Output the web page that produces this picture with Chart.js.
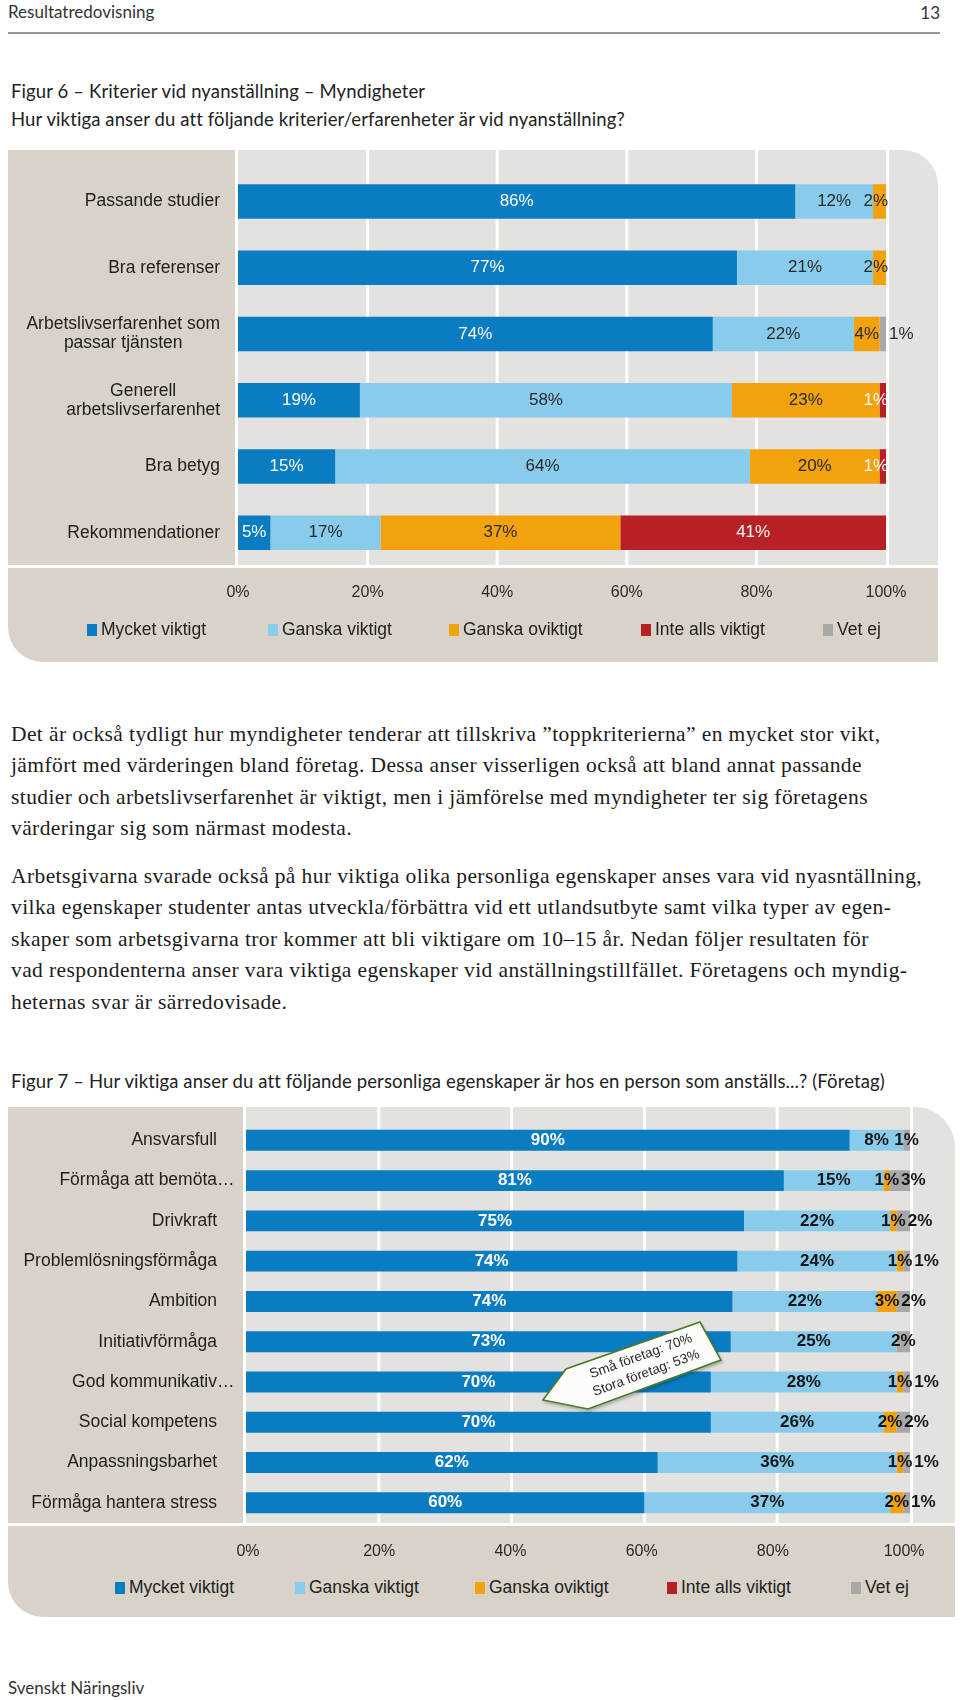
<!DOCTYPE html>
<html><head><meta charset="utf-8">
<script src="https://cdn.jsdelivr.net/npm/chart.js@4.4.1/dist/chart.umd.min.js"></script>
<style>
html,body{margin:0;padding:0;background:#fff;}
body{width:960px;height:1700px;position:relative;overflow:hidden;font-family:Lato,"Open Sans",sans-serif;color:#222;}
.abs{position:absolute;}
.hdr{font-size:17px;line-height:20px;color:#333;white-space:nowrap;}
.title{font-size:18.5px;letter-spacing:0.12px;line-height:28px;color:#222;white-space:nowrap;}
.body{font-family:"Liberation Serif","Times New Roman",serif;font-size:21.5px;letter-spacing:0.4px;line-height:31.5px;color:#1c1c1c;white-space:nowrap;left:11px;}
.beige{background:#d8d2c8;}
.plotbg{background:#e4e2df;}
.legend{font-family:"Liberation Sans",Arial,sans-serif;font-size:17.5px;color:#222;height:20px;width:960px;left:0;}
.legend .item{position:absolute;top:0;line-height:20px;white-space:nowrap;}
.legend .sq{display:inline-block;width:10px;height:12px;vertical-align:-1px;margin-right:4px;}
canvas{position:absolute;left:0;}
</style></head><body>

<div class="abs hdr" style="left:8px;top:2px;">Resultatredovisning</div>
<div class="abs hdr" style="left:880px;top:3px;width:60px;text-align:right;">13</div>
<div class="abs" style="left:8px;top:32px;width:932px;height:2px;background:#999;"></div>

<div class="abs title" style="left:11px;top:77px;">Figur 6 – Kriterier vid nyanställning – Myndigheter</div>
<div class="abs title" style="left:11px;top:105px;">Hur viktiga anser du att följande kriterier/erfarenheter är vid nyanställning?</div>

<!-- Figure 6 panel -->
<div class="abs beige" style="left:8px;top:150px;width:227px;height:415px;"></div>
<div class="abs plotbg" style="left:238px;top:150px;width:700px;height:415px;border-top-right-radius:35px;"></div>
<div class="abs beige" style="left:8px;top:568px;width:930px;height:94px;border-bottom-left-radius:35px;"></div>
<canvas id="fig6" width="960" height="470" style="top:150px;"></canvas>
<div class="abs legend" id="legend6" style="top:619px;"></div>

<div class="abs body" style="top:718.75px;">Det är också tydligt hur myndigheter tenderar att tillskriva ”toppkriterierna” en mycket stor vikt,<br>jämfört med värderingen bland företag. Dessa anser visserligen också att bland annat passande<br>studier och arbetslivserfarenhet är viktigt, men i jämförelse med myndigheter ter sig företagens<br>värderingar sig som närmast modesta.</div>

<div class="abs body" style="top:860.75px;">Arbetsgivarna svarade också på hur viktiga olika personliga egenskaper anses vara vid nyasntällning,<br>vilka egenskaper studenter antas utveckla/förbättra vid ett utlandsutbyte samt vilka typer av egen-<br>skaper som arbetsgivarna tror kommer att bli viktigare om 10–15 år. Nedan följer resultaten för<br>vad respondenterna anser vara viktiga egenskaper vid anställningstillfället. Företagens och myndig-<br>heternas svar är särredovisade.</div>

<div class="abs title" style="left:11px;top:1067px;">Figur 7 – Hur viktiga anser du att följande personliga egenskaper är hos en person som anställs...? (Företag)</div>

<!-- Figure 7 panel -->
<div class="abs beige" style="left:8px;top:1107px;width:235px;height:416px;"></div>
<div class="abs plotbg" style="left:246px;top:1107px;width:709px;height:416px;border-top-right-radius:40px;"></div>
<div class="abs beige" style="left:8px;top:1526px;width:947px;height:91px;border-bottom-left-radius:35px;"></div>
<canvas id="fig7" width="960" height="470" style="top:1107px;"></canvas>
<div class="abs legend" id="legend7" style="top:1577px;"></div>

<svg class="abs" style="left:530px;top:1310px;overflow:visible;" width="200" height="110">
  <defs><filter id="sh" x="-20%" y="-20%" width="140%" height="140%"><feDropShadow dx="1" dy="2" stdDeviation="1.5" flood-color="#000" flood-opacity="0.25"/></filter></defs>
  <polygon points="13,90 36,59 170,12 191,50 58,99" fill="#fcfcfa" stroke="#4a7a28" stroke-width="1.6" filter="url(#sh)"/>
  <g font-family="Liberation Sans, Arial, sans-serif" font-size="13.5" fill="#2a2a2a" text-anchor="middle">
    <text x="111" y="50" transform="rotate(-20 111 46)">Små företag: 70%</text>
    <text x="116" y="67" transform="rotate(-20 116 63)">Stora företag: 53%</text>
  </g>
</svg>

<div class="abs hdr" style="left:8px;top:1678px;">Svenskt Näringsliv</div>

<script>
// ---------- Data ----------
const seriesNames = ['Mycket viktigt', 'Ganska viktigt', 'Ganska oviktigt', 'Inte alls viktigt', 'Vet ej'];
const tickValues = [0, 20, 40, 60, 80, 100];

// Figur 6 – Myndigheter
const fig6Categories = [['Passande studier'], ['Bra referenser'], ['Arbetslivserfarenhet som', 'passar tjänsten'], ['Generell', 'arbetslivserfarenhet'], ['Bra betyg'], ['Rekommendationer']];
const fig6Mycket   = [86, 77, 74, 19, 15, 5];
const fig6Ganska   = [12, 21, 22, 58, 64, 17];
const fig6Oviktigt = [2, 2, 4, 23, 20, 37];
const fig6InteAlls = [0, 0, 0, 1, 1, 41];
const fig6VetEj    = [0, 0, 1, 0, 0, 0];

// Figur 7 – Företag
const fig7Categories = ['Ansvarsfull', 'Förmåga att bemöta…', 'Drivkraft', 'Problemlösningsförmåga', 'Ambition', 'Initiativförmåga', 'God kommunikativ…', 'Social kompetens', 'Anpassningsbarhet', 'Förmåga hantera stress'];
const fig7Mycket   = [90, 81, 75, 74, 74, 73, 70, 70, 62, 60];
const fig7Ganska   = [8, 15, 22, 24, 22, 25, 28, 26, 36, 37];
const fig7Oviktigt = [0, 1, 1, 1, 3, 0, 1, 2, 1, 2];
const fig7InteAlls = [0, 0, 0, 0, 0, 0, 0, 0, 0, 0];
const fig7VetEj    = [1, 3, 2, 1, 2, 2, 1, 2, 1, 1];

// ---------- Styles ----------
const seriesColors = ['#0a7dc2', '#89cbeb', '#f2a20c', '#b72126', '#a8a8a8'];
const SANS = '"Liberation Sans", Arial, sans-serif';

// 100% stacked bar: each segment is the share of its row total (as in the original chart type)
function buildDatasets(series) {
  const totals = series[0].map((_, i) => series.reduce((s, arr) => s + arr[i], 0));
  return series.map((arr, k) => ({
    label: seriesNames[k],
    data: arr.map((v, i) => v / totals[i] * 100),
    rawValues: arr,
    backgroundColor: seriesColors[k],
    borderWidth: 0,
    categoryPercentage: 1,
    barPercentage: 0.52
  }));
}

const customDraw = {
  id: 'customDraw',
  beforeDatasetsDraw(chart, args, o) {
    const {ctx, chartArea, scales: {x}} = chart;
    ctx.save();
    ctx.strokeStyle = '#ffffff';
    ctx.lineWidth = 3;
    tickValues.forEach(v => {
      let px = x.getPixelForValue(v);
      if (v === x.min) px -= 1.5;
      if (v === x.max) px += 1.5;
      ctx.beginPath(); ctx.moveTo(px, 0); ctx.lineTo(px, chartArea.bottom + 0.5); ctx.stroke();
    });
    ctx.restore();
  },
  afterDatasetsDraw(chart, args, o) {
    const {ctx, chartArea, scales: {y}} = chart;
    // category labels
    ctx.save();
    ctx.font = o.catFont; ctx.fillStyle = '#1e1e1e'; ctx.textBaseline = 'middle';
    chart.data.labels.forEach((lab, i) => {
      const cy = y.getPixelForValue(i);
      const lines = Array.isArray(lab) ? lab : [lab];
      if (lines.length > 1) {
        const bw = Math.max(...lines.map(l => ctx.measureText(l).width));
        ctx.textAlign = 'center';
        lines.forEach((l, k) => ctx.fillText(l, o.catRight - bw / 2, cy + (k - (lines.length - 1) / 2) * o.catLine));
      } else if (lines[0].endsWith('…')) {
        ctx.textAlign = 'right'; ctx.fillText(lines[0].slice(0, -1), o.catRight, cy);
        ctx.textAlign = 'left'; ctx.fillText('…', o.catRight, cy);
      } else {
        ctx.textAlign = 'right'; ctx.fillText(lines[0], o.catRight, cy);
      }
    });
    ctx.restore();
    // value labels
    ctx.save();
    ctx.font = o.valFont; ctx.textBaseline = 'middle'; ctx.textAlign = 'center';
    const nDs = chart.data.datasets.length;
    chart.data.labels.forEach((_, i) => {
      let prevRight = -Infinity;
      chart.data.datasets.forEach((ds, d) => {
        const v = ds.rawValues[i];
        if (!v) return;
        const bar = chart.getDatasetMeta(d).data[i];
        const {x, base, y: by} = bar.getProps(['x', 'base', 'y'], true);
        const txt = v + '%';
        const w = ctx.measureText(txt).width;
        let cx;
        if (o.outsideLast && d === nDs - 1) {
          cx = Math.max(x, chartArea.right) + 3 + w / 2;
        } else {
          cx = Math.max((x + base) / 2, prevRight + o.gap + w / 2);
          if (o.clampRight) cx = Math.min(cx, chartArea.right + 2 - w / 2);
        }
        ctx.fillStyle = o.valColors[d];
        ctx.fillText(txt, cx, by);
        prevRight = cx + w / 2;
      });
    });
    ctx.restore();
  }
};

function makeChart(id, cats, series, cfg) {
  const tickOpts = {callback: v => v + '%', font: {family: SANS, size: 16}, color: '#2a2a2a', padding: cfg.tickPad, maxRotation: 0, autoSkip: false};
  const scales = {
    x: {
      stacked: true, min: 0, max: 100,
      afterBuildTicks: s => { s.ticks = tickValues.map(v => ({value: v})); },
      ticks: cfg.tickAxis ? {display: false} : tickOpts,
      grid: {display: false, drawTicks: false},
      border: {display: false},
      afterFit: s => { s.height = cfg.tickAxis ? 0 : 40; }
    },
    y: {
      stacked: true,
      ticks: {display: false},
      grid: {display: false},
      border: {display: false},
      afterFit: s => { s.width = cfg.yWidth; }
    }
  };
  if (cfg.tickAxis) {
    // the printed percentage scale of this figure sits slightly compressed relative to the gridlines
    scales.xt = {
      type: 'linear', position: 'bottom', min: cfg.tickAxis.min, max: cfg.tickAxis.max,
      afterBuildTicks: s => { s.ticks = tickValues.map(v => ({value: v})); },
      ticks: tickOpts,
      grid: {display: false, drawTicks: false},
      border: {display: false},
      afterFit: s => { s.height = 40; }
    };
  }
  return new Chart(document.getElementById(id), {
    type: 'bar',
    data: {labels: cats, datasets: buildDatasets(series)},
    plugins: [customDraw],
    options: {
      indexAxis: 'y',
      responsive: false,
      animation: false,
      devicePixelRatio: 1,
      layout: {padding: cfg.padding},
      plugins: {
        legend: {display: false},
        tooltip: {enabled: false},
        customDraw: cfg.draw
      },
      scales
    }
  });
}

function htmlLegend(chart, el, lefts) {
  chart.data.datasets.forEach((ds, k) => {
    const item = document.createElement('div');
    item.className = 'item';
    item.style.left = lefts[k] + 'px';
    const sq = document.createElement('span');
    sq.className = 'sq'; sq.style.background = ds.backgroundColor;
    item.appendChild(sq);
    item.appendChild(document.createTextNode(ds.label));
    el.appendChild(item);
  });
}

const c6 = makeChart('fig6', fig6Categories, [fig6Mycket, fig6Ganska, fig6Oviktigt, fig6InteAlls, fig6VetEj], {
  padding: {left: 0, right: 74, top: 18.4, bottom: 14.1},
  yWidth: 238,
  tickPad: 17.5,
  draw: {catFont: '17.5px ' + SANS, catRight: 220, catLine: 19, valFont: '17px ' + SANS,
         valColors: ['#ffffff', '#2a2a2a', '#2a2a2a', '#ffffff', '#2a2a2a'], gap: 2, clampRight: true, outsideLast: true}
});
htmlLegend(c6, document.getElementById('legend6'), [87, 268, 449, 641, 823]);

const c7 = makeChart('fig7', fig7Categories, [fig7Mycket, fig7Ganska, fig7Oviktigt, fig7InteAlls, fig7VetEj], {
  padding: {left: 0, right: 50, top: 13.2, bottom: 14.1},
  yWidth: 246,
  tickPad: 19.5,
  tickAxis: {min: -0.3, max: 100.9},
  draw: {catFont: '17.5px ' + SANS, catRight: 217, catLine: 19, valFont: 'bold 17px ' + SANS,
         valColors: ['#ffffff', '#151515', '#151515', '#ffffff', '#151515'], gap: 2, clampRight: false, outsideLast: false}
});
htmlLegend(c7, document.getElementById('legend7'), [115, 295, 475, 667, 851]);
</script>
</body></html>
